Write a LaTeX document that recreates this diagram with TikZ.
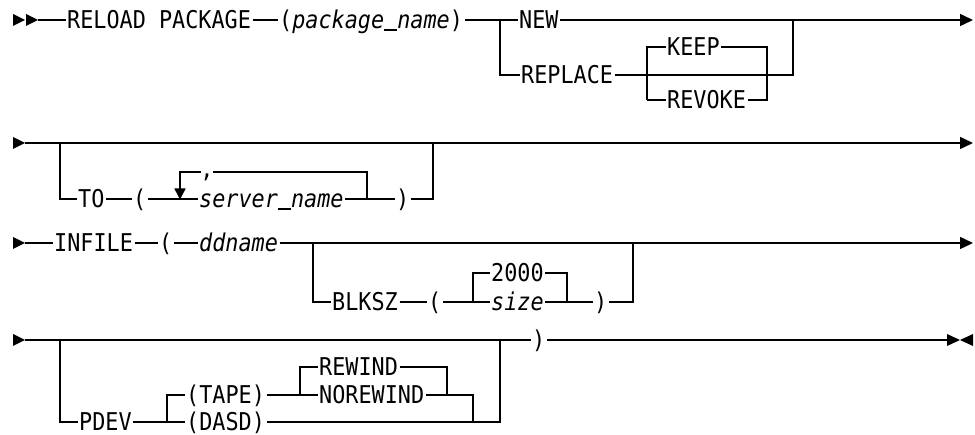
\documentclass[tikz,border=0pt]{standalone}
\usepackage{fontspec}
\usetikzlibrary{arrows.meta}
\newfontfamily\rrfont[FakeStretch=0.89]{DejaVu Sans Mono}
\newcommand\usc{\rule[-1.8pt]{13.1pt}{1.3pt}}
\tikzset{
  kw/.style={font=\rrfont\fontsize{24.5}{24.5}\selectfont, inner xsep=1.5pt, inner ysep=0pt,
             text height=17.8pt, text depth=0pt, anchor=west},
  rail/.style={line width=1.5pt, line join=miter},
  endarr/.style={rail, -{Triangle[length=13pt,width=12pt]}},
  looparr/.style={rail, -{Triangle[length=11pt,width=11pt]}},
  marker/.style={fill=black},
}
\begin{document}
\begin{tikzpicture}[x=1pt,y=-1pt]
\useasboundingbox (0,0) rectangle (975,435);
\fill[white] (0,0) rectangle (975,435);

% ---------- Row 1 ----------
\fill[marker] (13,14) -- (25,20) -- (13,26) -- cycle;
\fill[marker] (26,14) -- (38,20) -- (26,26) -- cycle;
\coordinate (st1) at (38,20);
\node[kw] (reload) at (65.5,20) {RELOAD PACKAGE};
\node[kw] (pkg) at (277.5,20) {(\textit{package\usc name})};
\node[kw] (new) at (517.5,20) {NEW};
\node[kw] (replace) at (519.5,75) {REPLACE};
\node[kw] (keep) at (665.5,47) {KEEP};
\node[kw] (revoke) at (665.5,100) {REVOKE};
\coordinate (s1) at (500,20);
\coordinate (k1) at (647,47);
\coordinate (k1b) at (647,100);
\coordinate (k2) at (767,47);
\coordinate (k2b) at (767,100);
\coordinate (j1) at (793,20);
\coordinate (j1b) at (793,75);
\coordinate (e1) at (973,20);
\draw[rail] (st1) -- (reload.west);
\draw[rail] (reload.east) -- (pkg.west);
\draw[rail] (pkg.east) -- (new.west);
\draw[rail] (s1) |- (replace.west);
\draw[endarr] (new.east) -- (e1);
\draw[rail] (replace.east) -- (j1b) -- (j1);
\draw[rail] (k1b) -- (k1) -- (keep.west);
\draw[rail] (keep.east) -- (k2) -- (k2b) -- (revoke.east);
\draw[rail] (k1b) -- (revoke.west);

% ---------- Row 2 ----------
\fill[marker] (13,137) -- (25,143) -- (13,149) -- cycle;
\coordinate (st2) at (25,143);
\coordinate (e2) at (973,143);
\coordinate (b2a) at (60,143);
\coordinate (b2b) at (433,143);
\node[kw] (to) at (76.5,199) {TO};
\node[kw] (lp2) at (131.5,199) {(};
\node[kw] (srv) at (197.5,199) {\textit{server\usc name}};
\node[kw] (rp2) at (394.5,199) {)};
\node[kw, anchor=base] (comma) at (207,178) {,};
\coordinate (lt1) at (180,172);
\coordinate (lt1b) at (180,199.5);
\coordinate (lc1) at (201,172);
\coordinate (lc2) at (213,172);
\coordinate (lt2) at (367,172);
\coordinate (lt2b) at (367,199);
\draw[endarr] (st2) -- (e2);
\draw[rail] (b2a) |- (to.west);
\draw[rail] (to.east) -- (lp2.west);
\draw[rail] (lp2.east) -- (srv.west);
\draw[rail] (srv.east) -- (rp2.west);
\draw[rail] (rp2.east) -| (b2b);
\draw[looparr] (lc1) -- (lt1) -- (lt1b);
\draw[rail] (lc2) -- (lt2) -- (lt2b);

% ---------- Row 3 ----------
\fill[marker] (13,237) -- (25,243) -- (13,249) -- cycle;
\coordinate (st3) at (25,243);
\coordinate (e3) at (973,243);
\coordinate (b3a) at (313,243);
\coordinate (b3b) at (633,243);
\node[kw] (infile) at (52.5,243) {INFILE};
\node[kw] (lp3) at (157.5,243) {(};
\node[kw] (ddname) at (197.5,243) {\textit{ddname}};
\node[kw] (blksz) at (330.5,302) {BLKSZ};
\node[kw] (lp3b) at (426.5,302) {(};
\node[kw] (n2000) at (489.5,273) {2000};
\node[kw] (size) at (489.5,302) {\textit{size}};
\node[kw] (rp3) at (592.5,302) {)};
\coordinate (c3a) at (473,273);
\coordinate (c3b) at (473,302);
\coordinate (c3c) at (567,273);
\coordinate (c3d) at (567,302);
\draw[rail] (st3) -- (infile.west);
\draw[rail] (infile.east) -- (lp3.west);
\draw[rail] (lp3.east) -- (ddname.west);
\draw[endarr] (ddname.east) -- (e3);
\draw[rail] (b3a) |- (blksz.west);
\draw[rail] (blksz.east) -- (lp3b.west);
\draw[rail] (lp3b.east) -- (size.west);
\draw[rail] (c3b) -- (c3a) -- (n2000.west);
\draw[rail] (n2000.east) -- (c3c) -- (c3d);
\draw[rail] (size.east) -- (rp3.west);
\draw[rail] (rp3.east) -| (b3b);

% ---------- Row 4 ----------
\fill[marker] (13,334) -- (25,340) -- (13,346) -- cycle;
\coordinate (st4) at (25,340);
\coordinate (b4a) at (60,340);
\coordinate (b4c) at (500,340);
\coordinate (end4) at (947,340);
\node[kw] (rp4) at (530.5,340) {)};
\node[kw] (pdev) at (77.5,422) {PDEV};
\node[kw] (tape) at (184.5,395) {(TAPE)};
\node[kw] (dasd) at (184.5,422) {(DASD)};
\node[kw] (rewind) at (317.5,367) {REWIND};
\node[kw] (norewind) at (317.5,395) {NOREWIND};
\coordinate (c4a) at (167,395);
\coordinate (c4b) at (167,422);
\coordinate (c4c) at (300,367);
\coordinate (c4d) at (300,395);
\coordinate (c4f) at (447,395);
\coordinate (c4h) at (473,422);
\draw[rail] (st4) -- (rp4.west);
\draw[rail] (rp4.east) -- (end4);
\fill[marker] (947,334) -- (960,340) -- (947,346) -- cycle;
\fill[marker] (973,334) -- (960,340) -- (973,346) -- cycle;
\draw[rail] (b4a) |- (pdev.west);
\draw[rail] (pdev.east) -- (dasd.west);
\draw[rail] (c4b) -- (c4a) -- (tape.west);
\draw[rail] (tape.east) -- (norewind.west);
\draw[rail] (c4d) -- (c4c) -- (rewind.west);
\draw[rail] (rewind.east) -| (c4f);
\draw[rail] (norewind.east) -| (c4h);
\draw[rail] (dasd.east) -| (b4c);
\end{tikzpicture}
\end{document}
